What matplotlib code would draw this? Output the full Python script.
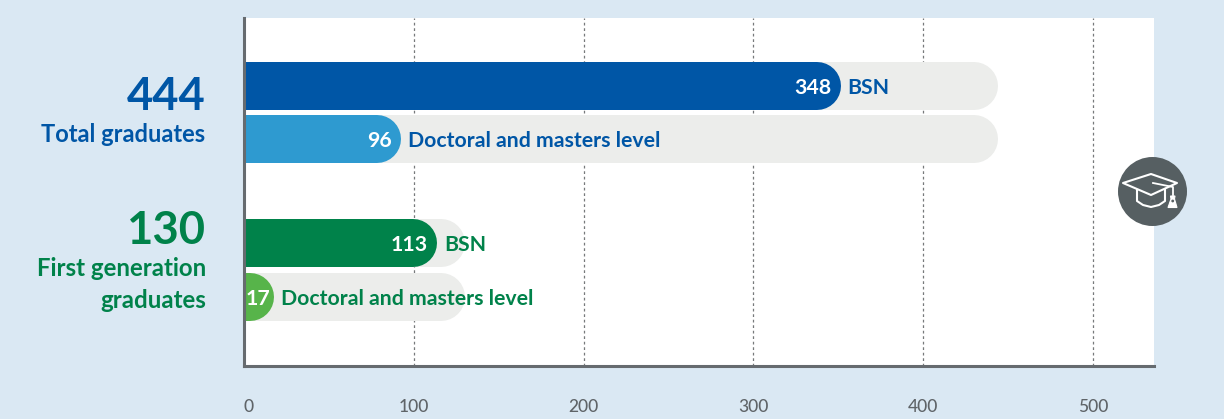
import matplotlib
matplotlib.use("Agg")
import matplotlib.pyplot as plt
from matplotlib.patches import Circle, Polygon
from matplotlib.lines import Line2D

plt.rcParams['font.family'] = ['Lato', 'DejaVu Sans']

W, H, DPI = 1224, 419, 100

# ---- data ----
group_totals = [444, 130]
group_labels = ["Total graduates", "First generation\ngraduates"]
bar_labels = ["BSN", "Doctoral and masters level", "BSN", "Doctoral and masters level"]
bar_values = [348, 96, 113, 17]
# bar ends as actually drawn in the picture (slightly off the printed values)
bar_drawn = [351.4, 92.4, 113.9, 17.4]
bar_totals = [444, 444, 130, 130]
x_ticks = [0, 100, 200, 300, 400, 500]

# ---- styles / layout ----
BG, GREY = "#dae8f3", "#ecedeb"
AXC, ICON = "#666b6f", "#565f62"
BLUE, LBLUE, GREEN, LGREEN = "#0056a6", "#2e9ad0", "#00824a", "#57b44a"
bar_colors = [BLUE, LBLUE, GREEN, LGREEN]
text_colors = [BLUE, BLUE, GREEN, GREEN]
group_colors = [BLUE, GREEN]
row_px = [86, 139, 243, 297]
value_gap_px = [9.5, 9.5, 9.5, 3.0]
label_gap_px = [6.0, 7.5, 7.0, 7.5]
BAR_H = 48
PX_PER_UNIT = 1.7
ZERO_SHIFT = 0.55   # data units of x=0 left of the axis line
X0, X1, Y0, Y1 = 244, 1154, 18, 366
PT = 72 / DPI

fig = plt.figure(figsize=(W / DPI, H / DPI), dpi=DPI, facecolor=BG)
ax = fig.add_axes([X0 / W, 1 - Y1 / H, (X1 - X0) / W, (Y1 - Y0) / H])
ax.set_facecolor("white")
ax.set_xlim(ZERO_SHIFT, ZERO_SHIFT + (X1 - X0) / PX_PER_UNIT)
ax.set_ylim(Y1, Y0)  # y axis runs in layout pixels
ax.set_yticks([])
for s in ("top", "right"):
    ax.spines[s].set_visible(False)
for s in ("left", "bottom"):
    ax.spines[s].set_color(AXC)
    ax.spines[s].set_linewidth(2.2)
    ax.spines[s].set_zorder(6)

ax.set_xticks(x_ticks)
ax.tick_params(axis="x", length=0, pad=0, labelbottom=False)
for t in x_ticks[1:]:
    ax.axvline(t, color="#77797b", lw=0.9, ls=(0, (2.2, 2.2)), zorder=1)


def pill(end, y, color, z):
    r = (BAR_H / 2) / PX_PER_UNIT
    ax.plot([-3 * r, end - r], [y, y], color=color, lw=BAR_H * PT,
            solid_capstyle="round", zorder=z)


for y, tot, d, v, lab, c, tc, vg, lg in zip(row_px, bar_totals, bar_drawn, bar_values,
                                            bar_labels, bar_colors, text_colors,
                                            value_gap_px, label_gap_px):
    pill(tot, y, GREY, 2)
    pill(d, y, c, 3)
    ax.annotate(str(v), (d, y), xytext=(-vg * PT, 0), textcoords="offset points",
                ha="right", va="center_baseline", color="white", fontsize=15.3,
                fontweight="bold", zorder=4)
    ax.annotate(lab, (d, y), xytext=(lg * PT, 0), textcoords="offset points",
                ha="left", va="center_baseline", color=tc, fontsize=15.35,
                fontweight="bold", zorder=4)

# overlay in figure pixels for text outside the plot and the icon
ov = fig.add_axes([0, 0, 1, 1], facecolor="none")
ov.set_xlim(0, W)
ov.set_ylim(H, 0)
ov.axis("off")

RIGHT = 206
ov.text(RIGHT, 110, str(group_totals[0]), ha="right", va="baseline", color=group_colors[0],
        fontsize=32.7, fontweight="bold")
ov.text(RIGHT - 0.5, 142, group_labels[0], ha="right", va="baseline", color=group_colors[0],
        fontsize=17, fontweight="bold")
ov.text(RIGHT, 244, str(group_totals[1]), ha="right", va="baseline", color=group_colors[1],
        fontsize=32.7, fontweight="bold")
ov.text(RIGHT, 276, group_labels[1].split("\n")[0], ha="right", va="baseline",
        color=group_colors[1], fontsize=17.3, fontweight="bold")
ov.text(RIGHT, 308, group_labels[1].split("\n")[1], ha="right", va="baseline",
        color=group_colors[1], fontsize=17.3, fontweight="bold")

for t in x_ticks:
    px = 243.4 + t * PX_PER_UNIT
    ov.text(px + (5.5 if t == 0 else 0), 412, str(t), ha="center", va="baseline",
            color="#5f6468", fontsize=12.5, fontweight="medium")

# graduation cap icon
ov.add_patch(Circle((1152.5, 191.5), 34.5, fc=ICON, ec="none", zorder=5))
wk = dict(fc="none", ec="white", lw=1.5, zorder=6, joinstyle="round")
ov.add_patch(Polygon([[1123, 183], [1151, 174], [1177, 183], [1151, 195]], closed=True, **wk))
ov.add_artist(Line2D([1137, 1137, 1143, 1151, 1159, 1165, 1165],
                     [190, 201, 205, 207, 205, 201, 190],
                     color="white", lw=1.5, zorder=6))
ov.add_artist(Line2D([1153, 1173, 1173], [183, 187, 195], color="white", lw=1.3, zorder=6))
ov.add_patch(Polygon([[1168, 207.5], [1171, 199], [1170.5, 196], [1175, 196], [1174.5, 199],
                      [1177, 207.5]], closed=True,
                     fc="white", ec="white", lw=0.8, zorder=6))
ov.add_patch(Circle((1172.7, 201), 1.4, fc=ICON, ec="none", zorder=7))

fig.savefig("out.png", dpi=DPI, facecolor=BG)
